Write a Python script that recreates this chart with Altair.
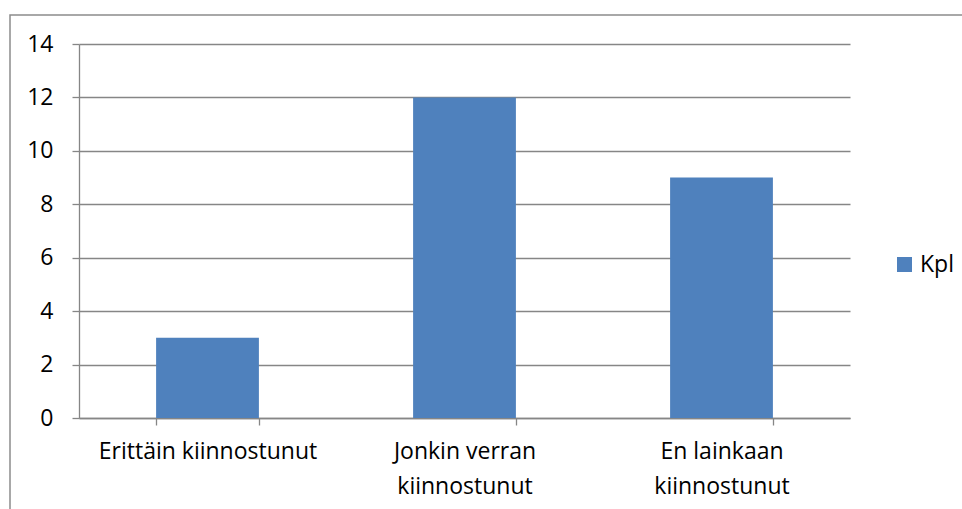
import altair as alt
import pandas as pd

# Survey answers and counts
categories = ["Erittäin kiinnostunut", "Jonkin verran\nkiinnostunut", "En lainkaan\nkiinnostunut"]
values = [3, 12, 9]
series = ["Kpl", "Kpl", "Kpl"]
y_ticks = [0, 2, 4, 6, 8, 10, 12, 14]

df = pd.DataFrame({"kategoria": categories, "arvo": values, "sarja": series})

W, H = 771, 374
FONT = "Open Sans"
FSIZE = 23
GRID = "#868686"
BAR = "#4F81BD"

bars = alt.Chart(df).mark_bar(color=BAR).encode(
    x=alt.X(
        "kategoria:N",
        sort=categories,
        title=None,
        scale=alt.Scale(paddingInner=0.6, paddingOuter=0.3),
        axis=alt.Axis(
            labelAngle=0,
            labelExpr="split(datum.label, '\\n')",
            tickBand="extent",
            tickSize=7,
            labelPadding=15,
            labelLineHeight=35,
            labelBaseline="top",
            labelLimit=0,
            grid=False,
        ),
    ),
    y=alt.Y(
        "arvo:Q",
        title=None,
        scale=alt.Scale(domain=[0, 14], nice=False),
        axis=alt.Axis(values=y_ticks, tickSize=7, labelPadding=19, grid=True),
    ),
    color=alt.Color(
        "sarja:N",
        scale=alt.Scale(range=[BAR]),
        legend=alt.Legend(
            title=None,
            orient="none",
            legendX=814,
            legendY=209,
            symbolType="square",
            symbolSize=225,
            symbolStrokeWidth=0,
            labelFont=FONT,
            labelFontSize=FSIZE,
            labelColor="black",
            labelOffset=4,
        ),
    ),
)

# Chart-area border
frame = alt.Chart(pd.DataFrame({"k": [0]})).mark_rect(
    fillOpacity=0, stroke="#8c8c8c", strokeWidth=1.5
).encode(
    x=alt.value(-69),
    x2=alt.value(W + 200),
    y=alt.value(-29),
    y2=alt.value(H + 200),
)

chart = (
    alt.layer(frame, bars)
    .properties(
        width=W,
        height=H,
        autosize=alt.AutoSizeParams(type="none"),
        padding={"left": 79, "top": 44, "right": 112, "bottom": 91},
        background="white",
    )
    .configure_view(stroke=None)
    .configure_axis(
        domainColor=GRID,
        tickColor=GRID,
        gridColor=GRID,
        domainWidth=1.3,
        tickWidth=1.3,
        gridWidth=1.3,
        labelFont=FONT,
        labelFontSize=FSIZE,
        labelColor="black",
    )
)

chart.save("out.html", embed_options={"renderer": "svg", "actions": False})
